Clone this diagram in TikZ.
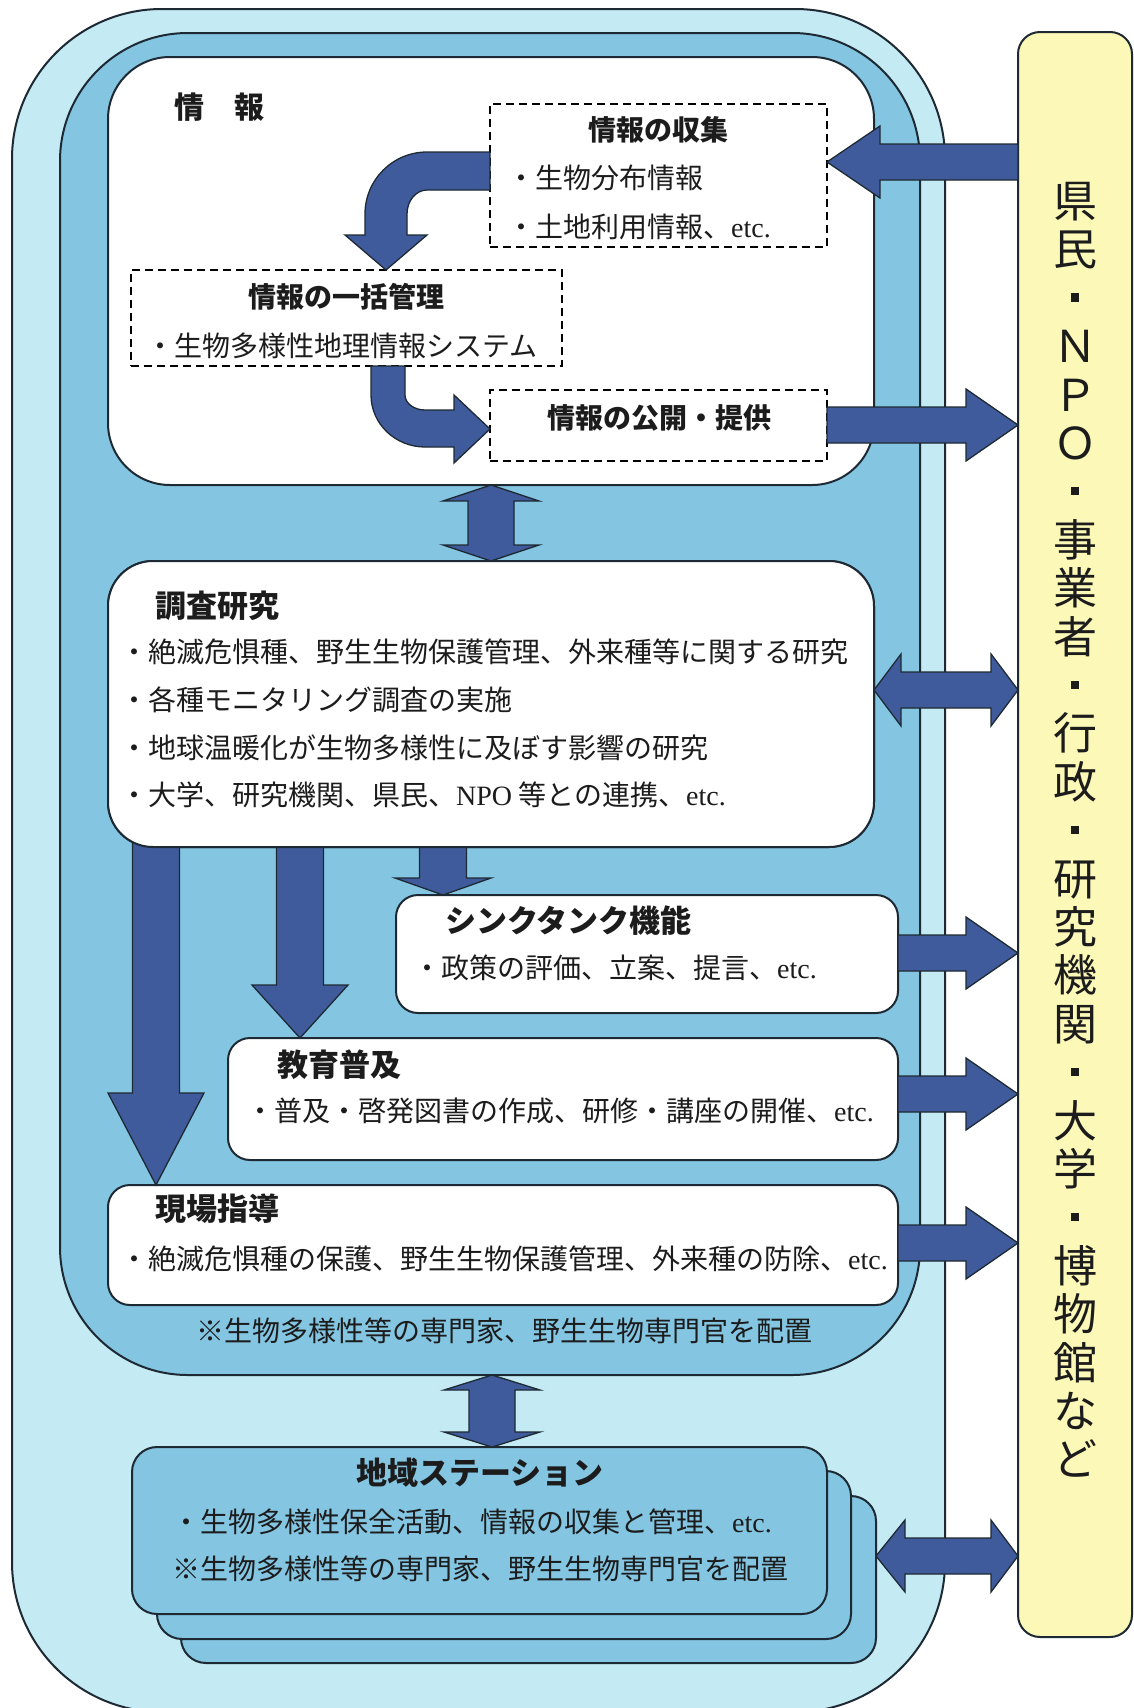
\documentclass[tikz,border=0pt]{standalone}
\usepackage{fontspec}
\setmainfont{Noto Sans CJK JP}
\newfontfamily\lat{Liberation Serif}
\usetikzlibrary{calc}
\definecolor{outerc}{HTML}{C4EAF4}
\definecolor{midc}{HTML}{84C5E2}
\definecolor{yelc}{HTML}{FBF8B8}
\definecolor{arrc}{HTML}{3F5B9C}
\definecolor{linec}{HTML}{1E2A33}
\definecolor{txtc}{HTML}{1C1C1C}
\tikzset{
 frame/.style={draw=linec, line width=2pt, inner sep=0pt, outer sep=0pt, anchor=north west},
 wbox/.style={frame, fill=white},
 dbox/.style={draw=black, line width=1.6pt, dash pattern=on 8pt off 5pt, fill=white, inner sep=0pt, outer sep=0pt, anchor=north west},
 fat/.style={fill=arrc, draw=linec, line width=1.3pt, line join=miter},
 body/.style={font=\fontsize{28}{34}\selectfont, inner sep=0pt, text=txtc},
 hd/.style={font=\bfseries\fontsize{28}{34}\selectfont, inner sep=0pt, text=txtc},
 sec/.style={font=\bfseries\fontsize{31}{36}\selectfont, inner sep=0pt, text=txtc},
 note/.style={font=\fontsize{28}{34}\selectfont, inner sep=0pt, text=txtc},
}
\newcommand\ysq{\raisebox{12.5pt}{\rule{8.5pt}{8.5pt}}}
% horizontal arrow to the right: start, tip, head length
\newcommand\hR[3]{\draw[fat] let \p1=#1, \p2=#2 in (\x1,\y1+18pt) -- (\x2-#3pt,\y1+18pt) -- (\x2-#3pt,\y1+36pt) -- (\x2,\y1) -- (\x2-#3pt,\y1-36pt) -- (\x2-#3pt,\y1-18pt) -- (\x1,\y1-18pt) -- cycle;}
% horizontal arrow to the left: start, tip, head length
\newcommand\hL[3]{\draw[fat] let \p1=#1, \p2=#2 in (\x1,\y1+18pt) -- (\x2+#3pt,\y1+18pt) -- (\x2+#3pt,\y1+36pt) -- (\x2,\y1) -- (\x2+#3pt,\y1-36pt) -- (\x2+#3pt,\y1-18pt) -- (\x1,\y1-18pt) -- cycle;}
% horizontal double arrow: left tip, right tip, left head length, right head length
\newcommand\hD[4]{\draw[fat] let \p1=#1, \p2=#2 in (\x1,\y1) -- (\x1+#3pt,\y1+36pt) -- (\x1+#3pt,\y1+18pt) -- (\x2-#4pt,\y1+18pt) -- (\x2-#4pt,\y1+36pt) -- (\x2,\y1) -- (\x2-#4pt,\y1-36pt) -- (\x2-#4pt,\y1-18pt) -- (\x1+#3pt,\y1-18pt) -- (\x1+#3pt,\y1-36pt) -- cycle;}
% vertical down arrow: start (top), tip, head length
\newcommand\vD[3]{\draw[fat] let \p1=#1, \p2=#2 in (\x1-23.5pt,\y1) -- (\x1-23.5pt,\y2+#3pt) -- (\x1-48pt,\y2+#3pt) -- (\x1,\y2) -- (\x1+48pt,\y2+#3pt) -- (\x1+23.5pt,\y2+#3pt) -- (\x1+23.5pt,\y1) -- cycle;}
% vertical double arrow: top tip, bottom tip, head length
\newcommand\vB[3]{\draw[fat] let \p1=#1, \p2=#2 in (\x1,\y1) -- (\x1+48pt,\y1-#3pt) -- (\x1+23pt,\y1-#3pt) -- (\x1+23pt,\y2+#3pt) -- (\x1+48pt,\y2+#3pt) -- (\x1,\y2) -- (\x1-48pt,\y2+#3pt) -- (\x1-23pt,\y2+#3pt) -- (\x1-23pt,\y1-#3pt) -- (\x1-48pt,\y1-#3pt) -- cycle;}

\begin{document}
\begin{tikzpicture}[x=1pt,y=-1pt]
\fill[white] (0,0) rectangle (1134,1708);
\useasboundingbox (0,0) rectangle (1134,1708);

% enclosing frames
\node[frame, fill=outerc, rounded corners=150pt, minimum width=933pt, minimum height=1703pt] (outer) at (12,9) {};
\node[frame, fill=midc, rounded corners=128pt, minimum width=860pt, minimum height=1342pt] (mid) at (60,33) {};

% white boxes
\node[wbox, rounded corners=22pt, minimum width=502pt, minimum height=118pt] (think) at (396,895) {};
\node[wbox, rounded corners=22pt, minimum width=670pt, minimum height=122pt] (edu) at (228,1038) {};
\node[wbox, rounded corners=22pt, minimum width=790pt, minimum height=120pt] (field) at (108,1185) {};
\node[wbox, rounded corners=62pt, minimum width=766pt, minimum height=428pt] (info) at (108,57) {};
\node[wbox, rounded corners=45pt, minimum width=766pt, minimum height=286pt] (research) at (108,561) {};

% down arrows from the research box
\vD{($(research.south -| 443,0)+(0,-20)$)}{(think.north -| 443,0)}{17}
\vD{($(research.south -| 300,0)+(0,-20)$)}{(edu.north -| 300,0)}{53}
\vD{($(research.south -| 156,0)+(0,-30)$)}{(field.north -| 156,0)}{92}
% research box redrawn over the arrow tops
\node[wbox, rounded corners=45pt, minimum width=766pt, minimum height=286pt] at (108,561) {};

% dashed boxes inside the info box
\node[dbox, minimum width=337pt, minimum height=143pt] (collect) at (490,104) {};
\node[dbox, minimum width=431pt, minimum height=96pt] (manage) at (131,270) {};
\node[dbox, minimum width=337pt, minimum height=71pt] (publish) at (490,390) {};

% regional stations (stacked)
\node[frame, fill=midc, rounded corners=25pt, minimum width=695pt, minimum height=167pt] (st3) at (181,1496) {};
\node[frame, fill=midc, rounded corners=25pt, minimum width=694pt, minimum height=168pt] (st2) at (157,1471) {};
\node[frame, fill=midc, rounded corners=25pt, minimum width=695pt, minimum height=167pt] (st1) at (132,1447) {};

% curved arrows in the info box
\draw[fat] (490,152) -- (427,152) .. controls (392.8,152) and (365,179.8) .. (365,214) -- (365,235) -- (345,235) -- (386,270) -- (427,235) -- (407,235) -- (407,214) .. controls (407,200.7) and (416,190) .. (427,190) -- (490,190) -- cycle;
\draw[fat] (371,366) -- (371,395) .. controls (371,423.7) and (395.2,447) .. (425,447) -- (454,447) -- (454,463) -- (490,429) -- (454,395) -- (454,410) -- (425,410) .. controls (414,410) and (405,403.3) .. (405,395) -- (405,366) -- cycle;

% vertical double arrows
\vB{(info.south -| 491,0)}{(research.north -| 491,0)}{16}
\vB{(mid.south -| 492,0)}{(st1.north -| 492,0)}{15}

% yellow box
\node[frame, fill=yelc, rounded corners=22pt, minimum width=114pt, minimum height=1605pt] (yellow) at (1018,32) {};

% horizontal arrows to / from the yellow box
\hL{(yellow.west |- 0,162)}{(collect.east |- 0,162)}{53}
\hR{(publish.east |- 0,425)}{(yellow.west |- 0,425)}{52}
\hD{(research.east |- 0,690)}{(yellow.west |- 0,690)}{27}{27}
\hR{(think.east |- 0,953)}{(yellow.west |- 0,953)}{52}
\hR{(edu.east |- 0,1094)}{(yellow.west |- 0,1094)}{52}
\hR{(field.east |- 0,1243)}{(yellow.west |- 0,1243)}{52}
\hD{(st3.east |- 0,1556)}{(yellow.west |- 0,1556)}{29}{27}

% yellow box text (vertical)
\node[font=\fontsize{44}{48.4}\selectfont, align=center, inner sep=0pt, text=txtc] (ytext) at (1075,830) {県\\民\\\ysq\\Ｎ\\Ｐ\\Ｏ\\\ysq\\事\\業\\者\\\ysq\\行\\政\\\ysq\\研\\究\\機\\関\\\ysq\\大\\学\\\ysq\\博\\物\\館\\な\\ど};

% info box texts
\node[anchor=west, inner sep=0pt, text=txtc, font=\bfseries\fontsize{30}{34}\selectfont] (infot) at (174,107) {情　報};
\node[hd] (collectt) at (658,130) {情報の収集};
\node[body, anchor=west] (c1) at (507,178) {・生物分布情報};
\node[body, anchor=west] (c2) at (507,227) {・土地利用情報、{\lat etc.}};
\node[hd] (managet) at (346,297) {情報の一括管理};
\node[body, anchor=west] (m1) at (146,346) {・生物多様性地理情報システム};
\node[hd] (publisht) at (659,418) {情報の公開・提供};

% research
\node[sec, anchor=west] (rt) at (155,606) {調査研究};
\node[body, anchor=west] (r1) at (120,652) {・絶滅危惧種、野生生物保護管理、外来種等に関する研究};
\node[body, anchor=west] (r2) at (120,700) {・各種モニタリング調査の実施};
\node[body, anchor=west] (r3) at (120,748) {・地球温暖化が生物多様性に及ぼす影響の研究};
\node[body, anchor=west] (r4) at (120,795) {・大学、研究機関、県民、{\lat NPO} 等との連携、{\lat etc.}};

% think tank
\node[sec, anchor=west] (tt) at (445,921) {シンクタンク機能};
\node[body, anchor=west] (t1) at (413,968) {・政策の評価、立案、提言、{\lat etc.}};
% education
\node[sec, anchor=west] (et) at (277,1065) {教育普及};
\node[body, anchor=west] (e1) at (246,1111) {・普及・啓発図書の作成、研修・講座の開催、{\lat etc.}};
% field
\node[sec, anchor=west] (ft) at (155,1209) {現場指導};
\node[body, anchor=west] (f1) at (120,1259) {・絶滅危惧種の保護、野生生物保護管理、外来種の防除、{\lat etc.}};
% note
\node[note] (n1) at (504,1331) {※生物多様性等の専門家、野生生物専門官を配置};

% station
\node[sec] (stt) at (480,1473) {地域ステーション};
\node[body, anchor=west] (s1) at (172,1522) {・生物多様性保全活動、情報の収集と管理、{\lat etc.}};
\node[note] (s2) at (480,1569) {※生物多様性等の専門家、野生生物専門官を配置};
\end{tikzpicture}
\end{document}
